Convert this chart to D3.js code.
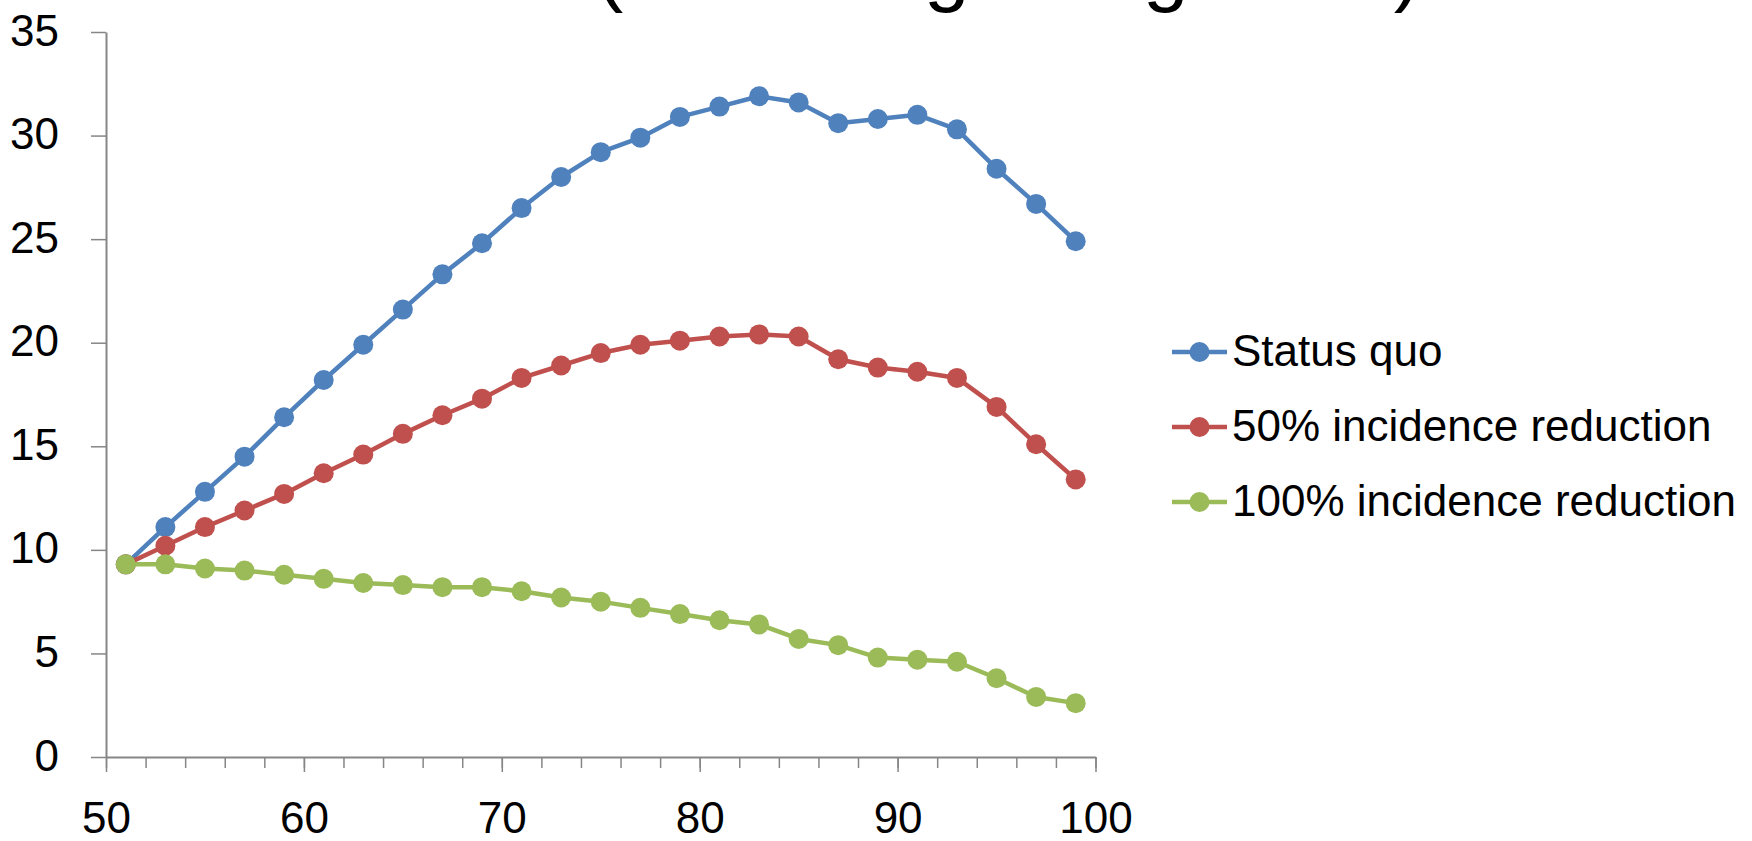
<!DOCTYPE html>
<html>
<head>
<meta charset="utf-8">
<script src="https://cdn.jsdelivr.net/npm/d3@7"></script>
<style>
    body { margin: 0; background: #fff; }
    text { font-family: "Liberation Sans", Arial, sans-serif; fill: #000; }
</style>
</head>
<body>
<svg width="1752" height="841"></svg>
<script>
const ages = [51, 53, 55, 57, 59, 61, 63, 65, 67, 69, 71, 73, 75, 77, 79, 81, 83, 85, 87, 89, 91, 93, 95, 97, 99]
const statusQuo = [9.3, 11.1, 12.8, 14.5, 16.4, 18.2, 19.9, 21.6, 23.3, 24.8, 26.5, 28.0, 29.2, 29.9, 30.9, 31.4, 31.9, 31.6, 30.6, 30.8, 31.0, 30.3, 28.4, 26.7, 24.9]
const reduction50 = [9.3, 10.2, 11.1, 11.9, 12.7, 13.7, 14.6, 15.6, 16.5, 17.3, 18.3, 18.9, 19.5, 19.9, 20.1, 20.3, 20.4, 20.3, 19.2, 18.8, 18.6, 18.3, 16.9, 15.1, 13.4]
const reduction100 = [9.3, 9.3, 9.1, 9.0, 8.8, 8.6, 8.4, 8.3, 8.2, 8.2, 8.0, 7.7, 7.5, 7.2, 6.9, 6.6, 6.4, 5.7, 5.4, 4.8, 4.7, 4.6, 3.8, 2.9, 2.6]
const seriesNames = ["Status quo", "50% incidence reduction", "100% incidence reduction"]
const seriesColors = ["#4F81BD", "#C0504D", "#9BBB59"]
const xTicks = [50, 60, 70, 80, 90, 100]
const yTicks = [0, 5, 10, 15, 20, 25, 30, 35]
const titleText = "(% among all aged 50)"

const svg = d3.select("svg")

const x = d3.scaleLinear().domain([50, 100]).range([106, 1095.5])
const y = d3.scaleLinear().domain([0, 35]).range([757, 32])

// title is cut off by the top edge, only the descenders show
svg.append("text")
    .attr("x", 596)
    .attr("y", -4)
    .style("font-size", "82px")
    .text(titleText)

const axisColor = "#868686"

// minor x ticks every 2 years
svg.append("g")
    .attr("transform", `translate(0, ${y(0)})`)
    .call(d3.axisBottom(x).tickValues(d3.range(50, 101, 2)).tickSize(11).tickSizeOuter(0).tickFormat(""))
    .call(g => g.select(".domain").remove())
    .call(g => g.selectAll("line").attr("stroke", axisColor).attr("stroke-width", 1.5))

const xAxis = svg.append("g")
    .attr("transform", `translate(0, ${y(0)})`)
    .call(d3.axisBottom(x).tickValues(xTicks).tickSize(15).tickSizeOuter(0))

xAxis.selectAll("text")
    .attr("y", 76)
    .attr("dy", 0)
    .style("font-size", "44px")

const yAxis = svg.append("g")
    .attr("transform", `translate(${x(50)}, 0)`)
    .call(d3.axisLeft(y).tickValues(yTicks).tickSize(15).tickSizeOuter(0))

yAxis.selectAll("text")
    .attr("x", -47)
    .attr("dy", 13)
    .style("font-size", "44px")

svg.selectAll(".domain").attr("stroke", axisColor).attr("stroke-width", 2)
svg.selectAll(".tick line").attr("stroke", axisColor).attr("stroke-width", 1.5)
svg.selectAll(".tick text").attr("fill", "#000").style("font-family", "'Liberation Sans', Arial, sans-serif")

const series = [statusQuo, reduction50, reduction100].map((values, i) => ({
    name: seriesNames[i],
    color: seriesColors[i],
    points: ages.map((a, j) => ({ age: a, value: values[j] }))
}))

const line = d3.line()
    .x(d => x(d.age))
    .y(d => y(d.value))

const groups = svg.append("g")
    .selectAll("g.series")
    .data(series)
    .enter()
    .append("g")
    .attr("class", "series")

groups.append("path")
    .attr("d", d => line(d.points))
    .attr("fill", "none")
    .attr("stroke", d => d.color)
    .attr("stroke-width", 4.5)
    .attr("stroke-linejoin", "round")

groups.selectAll("circle")
    .data(d => d.points.map(p => ({ ...p, color: d.color })))
    .enter()
    .append("circle")
    .attr("cx", d => x(d.age))
    .attr("cy", d => y(d.value))
    .attr("r", 10)
    .style("fill", d => d.color)

// legend
const legend = svg.append("g")
    .selectAll("g.legend")
    .data(series)
    .enter()
    .append("g")
    .attr("class", "legend")
    .attr("transform", (d, i) => `translate(1172, ${352 + i * 75})`)

legend.append("line")
    .attr("x1", 0)
    .attr("x2", 55)
    .attr("stroke", d => d.color)
    .attr("stroke-width", 4.5)

legend.append("circle")
    .attr("cx", 27.5)
    .attr("r", 10)
    .style("fill", d => d.color)

legend.append("text")
    .attr("x", 60)
    .attr("y", 14)
    .style("font-size", "44px")
    .text(d => d.name)
</script>
</body>
</html>
